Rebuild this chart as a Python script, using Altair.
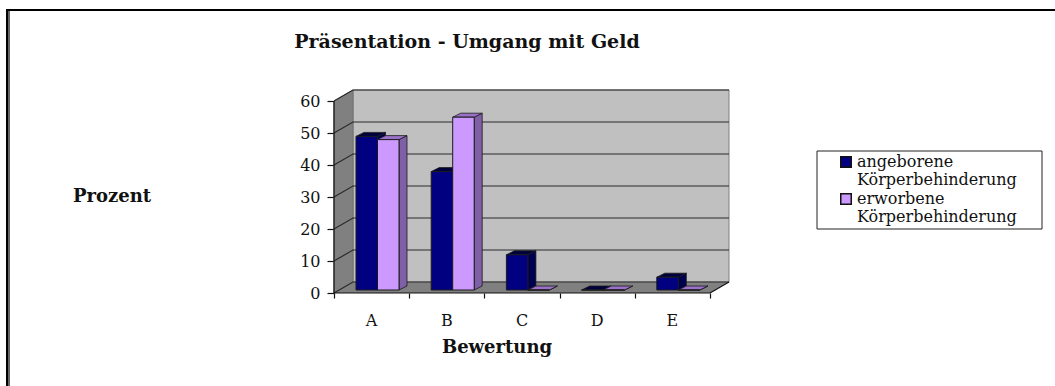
import altair as alt
import pandas as pd

# Chart values
categories = ["A", "B", "C", "D", "E"]
series_names = ["angeborene Körperbehinderung", "erworbene Körperbehinderung"]
angeboren = [48, 37, 11, 0, 4]
erworben = [47, 54, 0, 0, 0]
y_ticks = [0, 10, 20, 30, 40, 50, 60]
x_ticks = [0, 1, 2, 3, 4, 5]

# Layout of the pseudo-3D box, in px
PX_PER_CAT = 75.2
PX_PER_UNIT = 3.2
WALL_DX, WALL_DY = 19 / PX_PER_CAT, 11 / PX_PER_UNIT
BAR_START = 22 / PX_PER_CAT
BAR_W = 21.5 / PX_PER_CAT
BAR_DX, BAR_DY = 8 / PX_PER_CAT, 4 / PX_PER_UNIT
BASE_Y = 3 / PX_PER_UNIT

X_MAX = 5 + WALL_DX
Y_MAX = 60 + WALL_DY
x_scale = alt.Scale(domain=[0, X_MAX], nice=False, zero=False)
y_scale = alt.Scale(domain=[0, Y_MAX], nice=False, zero=False)

NAVY, NAVY_SIDE, NAVY_TOP = "#000080", "#000050", "#00003c"
LILAC, LILAC_SIDE, LILAC_TOP = "#cc99ff", "#7f5fa6", "#9a70c8"
EDGE = "#1a1a1a"
SERIF = "DejaVu Serif"
TEXT = "#111111"

# Every layer shares these axes so Vega-Lite merges them into one
x_axis_def = alt.Axis(
    values=x_ticks, labels=False, domain=False, grid=False,
    tickSize=5, tickColor="#111111", tickWidth=1.2,
)
y_axis_def = alt.Axis(
    values=y_ticks, domain=False, grid=False, tickSize=7, tickColor="#111111", tickWidth=1.2,
    labelFont=SERIF, labelFontSize=16, labelColor=TEXT, labelPadding=7,
)


def X(f="x", **kw):
    return alt.X(f"{f}:Q", scale=x_scale, axis=x_axis_def, title=None, **kw)


def Y(f="y"):
    return alt.Y(f"{f}:Q", scale=y_scale, axis=y_axis_def, title=None)


# Walls and floor
back = pd.DataFrame([{"x": WALL_DX, "x2": X_MAX, "y": WALL_DY, "y2": Y_MAX}])
back_wall = alt.Chart(back).mark_rect(fill="#c0c0c0", stroke="#808080", strokeWidth=1).encode(
    x=X(), x2="x2:Q", y=Y(), y2="y2:Q"
)
left = pd.DataFrame([{"x": 0, "y": 0, "y2": 60}, {"x": WALL_DX, "y": WALL_DY, "y2": Y_MAX}])
left_wall = alt.Chart(left).mark_area(fill="#808080", stroke="#707070", strokeWidth=1).encode(
    x=X(), y=Y(), y2="y2:Q"
)
floor = pd.DataFrame([{"y": 0, "x": 0, "x2": 5}, {"y": WALL_DY, "x": WALL_DX, "x2": X_MAX}])
floor_area = alt.Chart(floor).mark_area(fill="#808080", orient="horizontal").encode(
    y=Y(), x=X(stack=None), x2="x2:Q"
)

# Gridlines running along the back wall and down the left wall
grid_rows = []
for t in y_ticks:
    grid_rows += [
        {"t": t, "x": 0, "y": t},
        {"t": t, "x": WALL_DX, "y": t + WALL_DY},
        {"t": t, "x": X_MAX, "y": t + WALL_DY},
    ]
grid = alt.Chart(pd.DataFrame(grid_rows)).mark_line(color="#2a2a2a", strokeWidth=1.2).encode(
    x=X(), y=Y(), detail="t:N"
)
floor_edge_rows = [{"x": 5, "y": 0}, {"x": X_MAX, "y": WALL_DY}]
floor_edge = alt.Chart(pd.DataFrame(floor_edge_rows)).mark_line(color="#111111", strokeWidth=1.2).encode(
    x=X(), y=Y()
)


def bar_layers(values, series_idx, side_col, top_col):
    front, side, top = [], [], []
    for i, v in enumerate(values):
        x0 = i + BAR_START + series_idx * BAR_W
        x1 = x0 + BAR_W
        y0 = BASE_Y
        y1 = BASE_Y + v
        front.append({"x": x0, "x2": x1, "y": y0, "y2": y1, "series": series_names[series_idx]})
        side += [
            {"k": i, "x": x1, "y": y0, "y2": y1},
            {"k": i, "x": x1 + BAR_DX, "y": y0 + BAR_DY, "y2": y1 + BAR_DY},
        ]
        top += [
            {"k": i, "y": y1, "x": x0, "x2": x1},
            {"k": i, "y": y1 + BAR_DY, "x": x0 + BAR_DX, "x2": x1 + BAR_DX},
        ]
    side_c = alt.Chart(pd.DataFrame(side)).mark_area(fill=side_col, stroke=EDGE, strokeWidth=0.8).encode(
        x=X(), y=Y(), y2="y2:Q", detail="k:N"
    )
    top_c = alt.Chart(pd.DataFrame(top)).mark_area(
        fill=top_col, stroke=EDGE, strokeWidth=0.8, orient="horizontal"
    ).encode(
        y=Y(), x=X(stack=None), x2="x2:Q", detail="k:N"
    )
    front_c = alt.Chart(pd.DataFrame(front)).mark_rect(stroke=EDGE, strokeWidth=1).encode(
        x=X(), x2="x2:Q", y=Y(), y2="y2:Q",
        color=alt.Color(
            "series:N",
            scale=alt.Scale(domain=series_names, range=[NAVY, LILAC]),
            legend=alt.Legend(
                title=None, orient="none", legendX=504, legendY=64, padding=0,
                symbolType="square", symbolSize=110, symbolStrokeColor="#111111", symbolStrokeWidth=1.5,
                labelFont=SERIF, labelFontSize=16, labelColor=TEXT, labelLimit=220,
                labelExpr="split(replace(datum.label, ' ', '|'), '|')",
                labelOffset=3, rowPadding=2,
            ),
        ),
    )
    return [side_c, top_c, front_c]


# Axis lines run only over the 0-60 and A-E ranges of the front plane
y_axis = alt.Chart(pd.DataFrame({"x": [0, 0], "y": [0, 60]})).mark_line(color="#111111", strokeWidth=1.2).encode(
    x=X(), y=Y()
)
x_axis = alt.Chart(pd.DataFrame({"x": [0, 5], "y": [0, 0]})).mark_line(color="#111111", strokeWidth=1.2).encode(
    x=X(), y=Y()
)
cat_labels = alt.Chart(pd.DataFrame({"x": [i + 0.5 for i in range(5)], "cat": categories, "y": [0] * 5})).mark_text(
    font=SERIF, fontSize=16, color=TEXT, yOffset=28
).encode(x=X(), y=Y(), text="cat:N")

# Frame around the whole picture
frame_color = alt.Chart(pd.DataFrame({"a": [0]}))
frame = [
    frame_color.mark_rect(fill="#000000").encode(x=alt.value(-328), x2=alt.value(-326), y=alt.value(-81), y2=alt.value(296)),
    frame_color.mark_rect(fill="#666666").encode(x=alt.value(-326), x2=alt.value(-324), y=alt.value(-79), y2=alt.value(296)),
    frame_color.mark_rect(fill="#000000").encode(x=alt.value(-328), x2=alt.value(721), y=alt.value(-81), y2=alt.value(-79)),
]
legend_box = frame_color.mark_rect(fill="#ffffff", stroke="#222222", strokeWidth=1).encode(
    x=alt.value(483), x2=alt.value(708), y=alt.value(61), y2=alt.value(139)
)


def note(text, x, y, size, weight="normal"):
    return frame_color.mark_text(
        text=text, font=SERIF, fontSize=size, fontWeight=weight, color=TEXT, align="center", baseline="middle"
    ).encode(x=alt.value(x), y=alt.value(y))


notes = [
    note("Präsentation - Umgang mit Geld", 133, -48, 19, "bold"),
    note("Prozent", -222, 107, 18, "bold"),
    note("Bewertung", 163, 258, 18, "bold"),
]

layers = (
    frame + [legend_box] + [back_wall, left_wall, floor_area, grid, floor_edge]
    + bar_layers(angeboren, 0, NAVY_SIDE, NAVY_TOP)
    + bar_layers(erworben, 1, LILAC_SIDE, LILAC_TOP)
    + [y_axis, x_axis, cat_labels] + notes
)

chart = alt.layer(*layers).properties(
    width=395, height=203, background="#ffffff",
    padding={"left": 334, "top": 90, "right": 326, "bottom": 93},
    autosize=alt.AutoSizeParams(type="none"),
).configure_view(stroke=None)

chart.save("out.html", embed_options={"renderer": "svg", "actions": False})
